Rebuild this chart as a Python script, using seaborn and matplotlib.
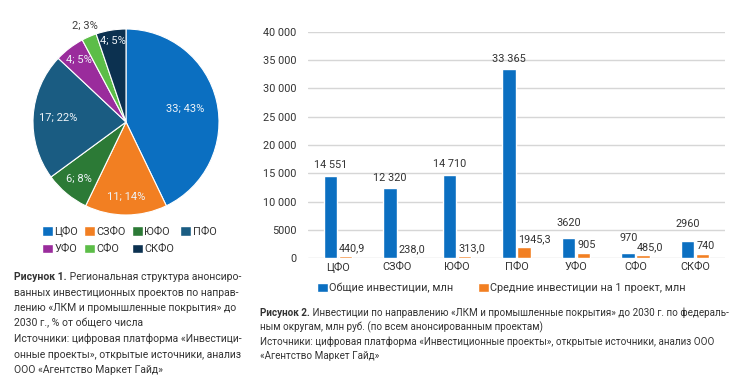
import numpy as np
import pandas as pd
import matplotlib
matplotlib.use("Agg")
import matplotlib.pyplot as plt
import seaborn as sns
from matplotlib.patches import Patch

# data
districts = ["ЦФО", "СЗФО", "ЮФО", "ПФО", "УФО", "СФО", "СКФО"]
project_counts = [33, 11, 6, 17, 4, 2, 4]
total_invest = [14551, 12320, 14710, 33365, 3620, 970, 2960]
avg_invest = [440.9, 238.0, 313.0, 1945.3, 905, 485.0, 740]
total_labels = ["14 551", "12 320", "14 710", "33 365", "3620", "970", "2960"]
avg_labels = ["440,9", "238,0", "313,0", "1945,3", "905", "485,0", "740"]
y_ticks = [0, 5000, 10000, 15000, 20000, 25000, 30000, 35000, 40000]
y_tick_labels = ["0", "5000", "10 000", "15 000", "20 000", "25 000", "30 000", "35 000", "40 000"]
series_names = ["Общие инвестиции, млн", "Средние инвестиции на 1 проект, млн"]

pie_colors = ["#0b6fc1", "#f27f22", "#2c7a36", "#1a5c82", "#9a2c9c", "#5cbd48", "#0c3150"]
bar_colors = ["#0b6fc1", "#f27f22"]
text_color = "#333333"

sns.set_style("white")
plt.rcParams["font.family"] = ["Roboto", "DejaVu Sans"]

W, H = 745, 390
fig = plt.figure(figsize=(W / 100, H / 100), dpi=100)
renderer = fig.canvas.get_renderer()


def px(x0, y0, w, h):
    # rect in pixel coords (top-left origin) -> figure fraction
    return [x0 / W, 1 - (y0 + h) / H, w / W, h / H]


# ---- pie ----
ax1 = fig.add_axes(px(33, 29, 186, 186))
wedges, _ = ax1.pie(project_counts, colors=pie_colors, startangle=90, counterclock=False,
                    wedgeprops=dict(edgecolor="white", linewidth=0.8))
ax1.set_xlim(-1, 1)
ax1.set_ylim(-1, 1)
ax1.set_aspect("equal")

total = sum(project_counts)
label_dist = [0.65, 0.81, 0.79, 0.73, 0.84, 1.12, 0.88]
for w, cnt, d in zip(wedges, project_counts, label_dist):
    ang = np.deg2rad((w.theta1 + w.theta2) / 2)
    col = "#404040" if d > 1 else "#eef3f8"
    ax1.text(d * np.cos(ang), d * np.sin(ang), f"{cnt}; {round(100 * cnt / total)}%",
             ha="center", va="center", fontsize=8, color=col)

# pie legend, filled row by row
order = [0, 4, 1, 5, 2, 6, 3]
pie_handles = [Patch(facecolor=pie_colors[i]) for i in order]
fig.legend(pie_handles, [districts[i] for i in order], ncol=4, frameon=False,
           loc="upper left", bbox_to_anchor=(42 / W, 1 - 226 / H), fontsize=7.8,
           handlelength=1.0, handleheight=1.0, handletextpad=0.15, columnspacing=0.55,
           labelspacing=0.6, borderpad=0, borderaxespad=0, labelcolor=text_color)

# ---- bars ----
df = pd.DataFrame({
    "district": districts * 2,
    "value": total_invest + avg_invest,
    "series": [series_names[0]] * 7 + [series_names[1]] * 7,
})
ax2 = fig.add_axes(px(308, 32, 417, 226))
sns.barplot(data=df, x="district", y="value", hue="series", palette=bar_colors,
            saturation=1, width=0.5, gap=0.1, errorbar=None, legend=False, ax=ax2)
ax2.set_ylim(0, 40000)
ax2.set_xlim(-0.5, 6.5)
ax2.set_yticks(y_ticks)
ax2.set_yticklabels(y_tick_labels)
ax2.grid(axis="y", color="#d6d6d6", linewidth=1)
ax2.set_axisbelow(True)
for s in ax2.spines.values():
    s.set_visible(False)
ax2.tick_params(axis="both", length=0, labelsize=7.8, labelcolor=text_color)
ax2.tick_params(axis="y", pad=8.5)
ax2.tick_params(axis="x", pad=3)
ax2.set_xlabel("")
ax2.set_ylabel("")

blue_pad = [4, 4, 4, 4, 7, 7, 9]
anns = ax2.bar_label(ax2.containers[0], labels=total_labels, padding=4, fontsize=7.8, color=text_color)
for a, p in zip(anns, blue_pad):
    a.xyann = (0, p)
anns = ax2.bar_label(ax2.containers[1], labels=avg_labels, padding=2, fontsize=7.8, color=text_color)
for a in anns:
    a.xyann = (-4.5, 2)
    a.set_ha("left")

bar_handles = [Patch(facecolor=c) for c in bar_colors]
fig.legend(bar_handles, series_names, ncol=2, frameon=False, loc="center left",
           bbox_to_anchor=(317 / W, 1 - 288 / H), fontsize=7.8, handlelength=1.0,
           handleheight=1.0, handletextpad=0.1, columnspacing=2.3, borderpad=0,
           borderaxespad=0, labelcolor=text_color)


# ---- captions ----
def text_width(bold, rest, size):
    w = 0
    for s, wt in ((bold, "bold"), (rest, "normal")):
        if s:
            t = fig.text(0, 0, s, fontsize=size, fontweight=wt)
            w += t.get_window_extent(renderer).width
            t.remove()
    return w


def fit_size(lines, target, base=8.0):
    widest = max(text_width(b, r, base) for b, r in lines)
    return base * target / widest


def caption(x, y, step, lines, size):
    for i, (bold, rest) in enumerate(lines):
        yy = 1 - (y + i * step) / H
        xx = x / W
        if bold:
            t = fig.text(xx, yy, bold, fontsize=size, fontweight="bold", color=text_color, va="center")
            xx = t.get_window_extent(renderer).x1 / W
        fig.text(xx, yy, rest, fontsize=size, color=text_color, va="center")


left_lines = [
    ("Рисунок 1.", " Региональная структура анонсиро-"),
    ("", "ванных инвестиционных проектов по направ-"),
    ("", "лению «ЛКМ и промышленные покрытия» до"),
    ("", "2030 г., % от общего числа"),
    ("", "Источники: цифровая платформа «Инвестици-"),
    ("", "онные проекты», открытые источники, анализ"),
    ("", "ООО «Агентство Маркет Гайд»"),
]
caption(14, 277, 15.5, left_lines, fit_size(left_lines, 230))

right_lines = [
    ("Рисунок 2.", " Инвестиции по направлению «ЛКМ и промышленные покрытия» до 2030 г. по федераль-"),
    ("", "ным округам, млн руб. (по всем анонсированным проектам)"),
    ("", "Источники: цифровая платформа «Инвестиционные проекты», открытые источники, анализ ООО"),
    ("", "«Агентство Маркет Гайд»"),
]
caption(260, 313, 14.3, right_lines, fit_size(right_lines, 470))

fig.savefig("out.png", dpi=100)
